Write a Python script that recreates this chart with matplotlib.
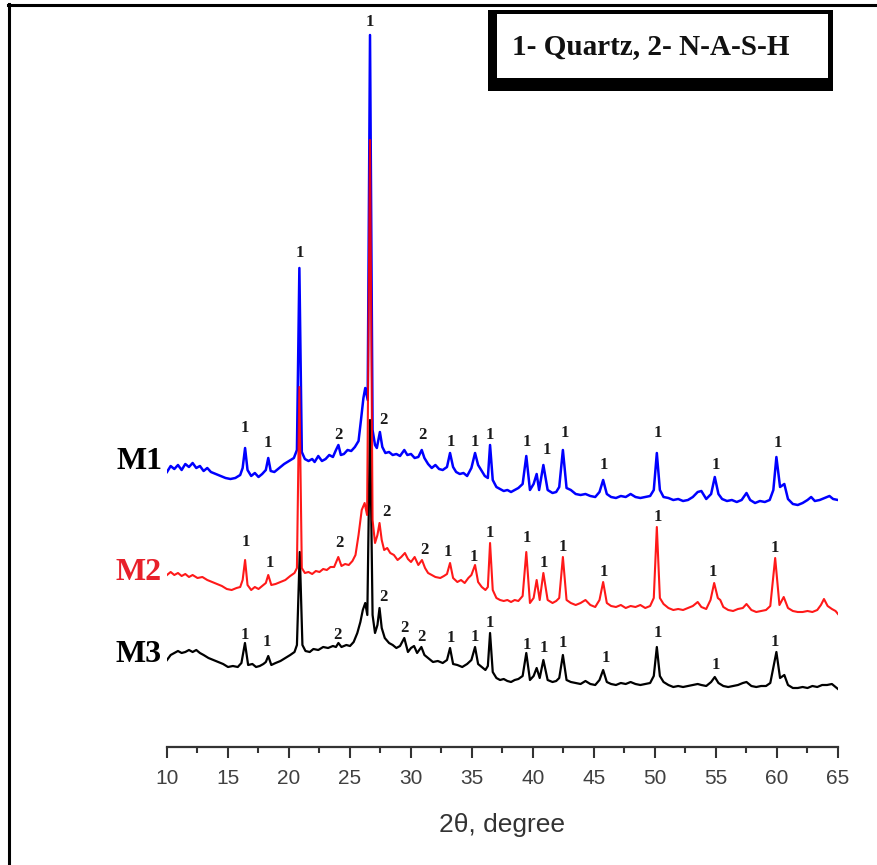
import matplotlib
matplotlib.use("Agg")
import matplotlib.pyplot as plt
from matplotlib.patches import Rectangle
from matplotlib.lines import Line2D
from matplotlib.ticker import MultipleLocator

# ---------------- data (2theta, intensity in a.u., offset stacked) ----------------
m1_2theta = [10.0, 10.3, 10.6, 10.9, 11.2, 11.5, 11.8, 12.1, 12.4, 12.7, 13.0, 13.3, 13.6, 14.0, 14.4,
             14.8, 15.2, 15.6, 16.0, 16.2, 16.4, 16.6, 16.9, 17.2, 17.5, 17.8, 18.1, 18.3, 18.5, 18.8,
             19.2, 19.6, 20.0, 20.4, 20.65, 20.85, 21.05, 21.3, 21.6, 21.9, 22.1, 22.4, 22.7, 23.0, 23.3,
             23.6, 23.85, 24.05, 24.25, 24.5, 24.8, 25.1, 25.4, 25.7, 25.9, 26.1, 26.25, 26.45, 26.64, 26.85,
             27.05, 27.2, 27.45, 27.65, 27.9, 28.2, 28.5, 28.8, 29.1, 29.45, 29.7, 30.0, 30.3, 30.6, 30.88,
             31.1, 31.4, 31.7, 32.0, 32.3, 32.6, 32.95, 33.2, 33.45, 33.7, 34.0, 34.3, 34.6, 34.95, 35.25,
             35.5, 35.75, 36.05, 36.3, 36.48, 36.7, 37.0, 37.3, 37.6, 37.9, 38.2, 38.5, 38.8, 39.15, 39.45,
             39.75, 40.05, 40.3, 40.5, 40.85, 41.2, 41.6, 41.9, 42.15, 42.45, 42.75, 43.1, 43.5, 43.9, 44.3,
             44.7, 45.1, 45.45, 45.75, 46.05, 46.4, 46.8, 47.2, 47.6, 48.0, 48.4, 48.8, 49.2, 49.6, 49.9,
             50.15, 50.4, 50.7, 51.1, 51.5, 51.9, 52.3, 52.7, 53.1, 53.5, 53.8, 54.2, 54.6, 54.9, 55.2,
             55.5, 55.9, 56.3, 56.7, 57.1, 57.5, 57.8, 58.2, 58.6, 59.0, 59.4, 59.7, 59.95, 60.25, 60.6,
             60.9, 61.3, 61.7, 62.1, 62.5, 62.8, 63.1, 63.5, 63.9, 64.3, 64.6, 65.0]
m1_int = [276, 282, 279, 283, 278, 284, 281, 285, 280, 282, 277, 280, 276, 274, 272,
          270, 269, 270, 273, 280, 300, 278, 272, 275, 271, 274, 278, 290, 277, 276,
          280, 284, 287, 290, 298, 480, 296, 289, 287, 289, 286, 292, 287, 289, 293,
          291, 298, 303, 293, 294, 298, 297, 301, 307, 328, 350, 360, 348, 713, 318,
          303, 300, 316, 301, 295, 296, 293, 294, 292, 298, 293, 294, 290, 291, 298,
          290, 284, 280, 283, 279, 278, 281, 295, 281, 276, 274, 275, 272, 280, 295,
          283, 278, 272, 270, 303, 268, 261, 259, 257, 258, 256, 258, 260, 264, 292,
          258, 264, 274, 258, 283, 258, 255, 256, 261, 298, 260, 258, 254, 253, 254,
          252, 251, 256, 268, 254, 251, 250, 252, 251, 254, 251, 250, 251, 252, 258,
          295, 258, 251, 250, 248, 249, 247, 248, 251, 256, 257, 249, 254, 271, 254,
          249, 247, 248, 246, 248, 255, 248, 245, 247, 246, 248, 258, 291, 261, 264,
          249, 244, 243, 245, 248, 251, 247, 248, 250, 252, 249, 248]

m2_2theta = [10.0, 10.3, 10.6, 10.9, 11.2, 11.5, 11.8, 12.1, 12.5, 12.9, 13.3, 13.7, 14.1, 14.5, 14.9,
             15.3, 15.7, 16.0, 16.2, 16.4, 16.6, 16.9, 17.2, 17.5, 17.8, 18.1, 18.3, 18.55, 18.9, 19.3,
             19.7, 20.1, 20.45, 20.65, 20.85, 21.05, 21.3, 21.6, 21.9, 22.2, 22.5, 22.8, 23.1, 23.4, 23.7,
             24.04, 24.3, 24.6, 24.9, 25.2, 25.45, 25.7, 25.96, 26.2, 26.4, 26.64, 26.85, 27.05, 27.25, 27.42,
             27.6, 27.8, 28.05, 28.3, 28.6, 28.9, 29.2, 29.5, 29.75, 30.0, 30.3, 30.6, 30.9, 31.15, 31.4,
             31.7, 32.0, 32.4, 32.7, 32.95, 33.2, 33.45, 33.8, 34.1, 34.4, 34.7, 34.95, 35.25, 35.5, 35.8,
             36.1, 36.3, 36.48, 36.7, 37.0, 37.3, 37.6, 37.9, 38.2, 38.5, 38.8, 39.15, 39.45, 39.75, 40.05,
             40.3, 40.55, 40.85, 41.2, 41.6, 41.9, 42.15, 42.45, 42.75, 43.1, 43.5, 43.9, 44.3, 44.7, 45.1,
             45.45, 45.75, 46.05, 46.4, 46.8, 47.2, 47.6, 48.0, 48.4, 48.8, 49.2, 49.6, 49.9, 50.15, 50.4,
             50.7, 51.1, 51.5, 51.9, 52.3, 52.7, 53.1, 53.5, 53.8, 54.2, 54.55, 54.85, 55.15, 55.35, 55.6,
             56.0, 56.4, 56.8, 57.2, 57.5, 57.9, 58.3, 58.7, 59.1, 59.45, 59.85, 60.2, 60.55, 60.9, 61.3,
             61.7, 62.1, 62.5, 62.9, 63.3, 63.6, 63.85, 64.15, 64.5, 64.8, 65.0]
m2_int = [173, 176, 173, 175, 172, 174, 171, 173, 170, 171, 168, 166, 164, 162, 159,
          158, 160, 161, 168, 188, 163, 158, 161, 159, 162, 165, 173, 163, 164, 166,
          168, 172, 175, 180, 361, 180, 175, 176, 174, 177, 176, 179, 178, 181, 181,
          191, 182, 184, 183, 187, 193, 213, 238, 245, 233, 608, 228, 205, 213, 225,
          208, 198, 200, 195, 193, 188, 191, 195, 189, 186, 191, 183, 188, 180, 175,
          173, 171, 170, 172, 174, 185, 170, 166, 168, 165, 170, 173, 183, 166, 161,
          158, 161, 205, 158, 150, 148, 147, 148, 146, 148, 147, 152, 196, 145, 150,
          168, 148, 175, 148, 145, 147, 150, 191, 148, 145, 143, 145, 148, 143, 141,
          148, 166, 145, 142, 141, 143, 140, 142, 141, 143, 140, 142, 150, 221, 150,
          144, 140, 138, 139, 138, 140, 142, 146, 141, 139, 148, 165, 150, 148, 141,
          138, 137, 139, 140, 144, 138, 136, 137, 138, 142, 190, 143, 151, 140, 137,
          136, 136, 137, 136, 138, 143, 149, 142, 139, 137, 134]

m3_2theta = [10.0, 10.3, 10.6, 10.9, 11.2, 11.5, 11.8, 12.1, 12.4, 12.7, 13.0, 13.4, 13.8, 14.2, 14.6,
             15.0, 15.4, 15.8, 16.1, 16.39, 16.65, 17.0, 17.3, 17.6, 17.9, 18.1, 18.3, 18.55, 18.9, 19.3,
             19.7, 20.1, 20.45, 20.65, 20.88, 21.1, 21.35, 21.7, 22.0, 22.4, 22.8, 23.2, 23.6, 23.85, 24.05,
             24.3, 24.7, 25.0, 25.3, 25.6, 25.85, 26.05, 26.25, 26.42, 26.64, 26.85, 27.05, 27.25, 27.42, 27.6,
             27.85, 28.2, 28.5, 28.8, 29.1, 29.45, 29.75, 30.0, 30.25, 30.5, 30.85, 31.1, 31.4, 31.8, 32.2,
             32.6, 32.95, 33.2, 33.45, 33.8, 34.2, 34.6, 34.95, 35.25, 35.5, 35.8, 36.1, 36.3, 36.48, 36.7,
             37.0, 37.3, 37.6, 37.9, 38.2, 38.5, 38.8, 39.15, 39.45, 39.75, 40.05, 40.3, 40.55, 40.85, 41.2,
             41.6, 41.9, 42.15, 42.45, 42.75, 43.1, 43.5, 43.9, 44.3, 44.7, 45.1, 45.45, 45.75, 46.05, 46.4,
             46.8, 47.2, 47.6, 48.0, 48.4, 48.8, 49.2, 49.6, 49.9, 50.15, 50.4, 50.7, 51.1, 51.5, 51.9,
             52.3, 52.7, 53.1, 53.5, 53.8, 54.2, 54.6, 54.9, 55.2, 55.6, 56.0, 56.4, 56.8, 57.2, 57.5,
             57.9, 58.3, 58.7, 59.1, 59.45, 59.95, 60.25, 60.6, 60.9, 61.3, 61.7, 62.1, 62.5, 62.9, 63.3,
             63.7, 64.1, 64.5, 64.8, 65.0]
m3_int = [88, 93, 95, 97, 95, 96, 98, 96, 98, 95, 93, 90, 88, 86, 84,
          81, 82, 81, 85, 105, 83, 84, 81, 82, 84, 86, 92, 83, 85, 87,
          90, 93, 96, 103, 196, 103, 97, 96, 99, 98, 101, 100, 102, 101, 105,
          101, 103, 102, 106, 115, 126, 138, 145, 133, 328, 133, 115, 123, 140, 120,
          110, 105, 103, 100, 102, 110, 96, 100, 102, 95, 101, 93, 90, 86, 87,
          85, 88, 100, 84, 83, 81, 84, 88, 101, 84, 81, 78, 82, 115, 76,
          70, 68, 69, 67, 66, 68, 69, 72, 95, 68, 72, 80, 70, 88, 68,
          66, 67, 70, 93, 68, 66, 65, 64, 67, 64, 63, 68, 78, 66, 64,
          63, 65, 64, 66, 64, 63, 64, 65, 72, 101, 72, 66, 63, 61, 62,
          61, 62, 63, 64, 63, 62, 66, 71, 65, 62, 61, 62, 63, 65, 66,
          62, 61, 62, 62, 65, 96, 70, 73, 63, 60, 60, 61, 60, 62, 61,
          63, 63, 64, 61, 59]

# phase labels: (2theta, intensity, text)
m1_labels_x = [16.4, 18.3, 20.85, 24.05, 26.64, 27.7, 30.9, 33.25, 35.2, 36.5, 39.5, 41.1, 42.6, 45.8, 50.25, 55.0, 60.1]
m1_labels_y = [320, 305, 495, 313, 726, 328, 313, 306, 306, 313, 306, 298, 315, 283, 315, 283, 305]
m1_labels_t = ["1", "1", "1", "2", "1", "2", "2", "1", "1", "1", "1", "1", "1", "1", "1", "1", "1"]

m2_labels_x = [16.5, 18.4, 24.1, 28.0, 31.1, 33.0, 35.15, 36.5, 39.5, 40.9, 42.46, 45.82, 50.25, 54.76, 59.84]
m2_labels_y = [206, 185, 205, 236, 198, 196, 191, 215, 210, 185, 201, 176, 231, 176, 200]
m2_labels_t = ["1", "1", "2", "2", "2", "1", "1", "1", "1", "1", "1", "1", "1", "1", "1"]

m3_labels_x = [16.39, 18.2, 24.0, 27.7, 29.5, 30.88, 33.3, 35.25, 36.5, 39.5, 40.9, 42.46, 45.95, 50.25, 55.0, 59.84]
m3_labels_y = [113, 106, 113, 151, 120, 111, 110, 111, 125, 103, 100, 105, 90, 115, 83, 106]
m3_labels_t = ["1", "1", "2", "2", "2", "2", "1", "1", "1", "1", "1", "1", "1", "1", "1", "1"]

sample_names = ["M1", "M2", "M3"]
sample_label_y = [286, 175, 93]
sample_colors = ["#000000", "#e8202a", "#000000"]
line_colors = ["#0000ff", "#ff0000", "#000000"]

legend_text = "1- Quartz, 2- N-A-S-H"
xlabel_text = "2\u03b8, degree"
x_ticks = [10, 15, 20, 25, 30, 35, 40, 45, 50, 55, 60, 65]

# ---------------- figure ----------------
W, H = 878, 865
fig = plt.figure(figsize=(W / 100, H / 100), dpi=100)
fig.patch.set_facecolor("white")

def fx(px):
    return px / W

def fy(py):
    return 1 - py / H

ax = fig.add_axes([fx(167), fy(747), fx(838) - fx(167), fy(5) - fy(747)])
ax.set_xlim(10, 65)
ax.set_ylim(1, 743)
ax.patch.set_alpha(0)

ax.plot(m3_2theta, m3_int, color=line_colors[2], lw=1.6, zorder=2)
ax.plot(m1_2theta, m1_int, color=line_colors[0], lw=1.8, zorder=3)
ax.plot(m2_2theta, m2_int, color=line_colors[1], lw=1.5, alpha=0.9, zorder=4)

serif = ["Liberation Serif", "DejaVu Serif"]
for xs, ys, ts in [(m1_labels_x, m1_labels_y, m1_labels_t),
                   (m2_labels_x, m2_labels_y, m2_labels_t),
                   (m3_labels_x, m3_labels_y, m3_labels_t)]:
    for x, y, t in zip(xs, ys, ts):
        ax.text(x, y, t, ha="center", va="center", fontsize=12, fontweight="bold",
                family=serif, color="#1a1a1a", zorder=6, clip_on=False)

for name, y, c in zip(sample_names, sample_label_y, sample_colors):
    ax.text(9.6, y, name, ha="right", va="center", fontsize=23, fontweight="bold",
            family=serif, color=c, clip_on=False)

for s in ["left", "right", "top"]:
    ax.spines[s].set_visible(False)
ax.spines["bottom"].set_color("#333333")
ax.spines["bottom"].set_linewidth(1.6)
ax.set_yticks([])
ax.set_xticks(x_ticks)
ax.xaxis.set_minor_locator(MultipleLocator(2.5))
ax.tick_params(axis="x", which="major", direction="out", length=8, width=1.5,
               color="#333333", labelsize=15, labelcolor="#404040", pad=7.5)
ax.tick_params(axis="x", which="minor", direction="out", length=4.5, width=1.5, color="#333333")
for lab in ax.get_xticklabels():
    lab.set_family(["Liberation Sans", "DejaVu Sans"])
ax.set_xlabel(xlabel_text, fontsize=19, color="#333333",
              family=["Liberation Sans", "DejaVu Sans"], labelpad=18)

# outer frame lines (left and top)
fig.add_artist(Line2D([fx(9), fx(9)], [fy(4), fy(865)], color="black", lw=2.2))
fig.add_artist(Line2D([fx(8), fx(878)], [fy(5), fy(5)], color="black", lw=2.2))

# legend box with shadow
fig.add_artist(Rectangle((fx(488), fy(91)), fx(833) - fx(488), fy(10) - fy(91),
                         facecolor="black", edgecolor="none"))
fig.add_artist(Rectangle((fx(497), fy(78)), fx(828) - fx(497), fy(14) - fy(78),
                         facecolor="white", edgecolor="none"))
fig.text(fx(651), fy(47), legend_text, ha="center", va="center", fontsize=21,
         fontweight="bold", family=serif, color="#111111")

fig.savefig("out.png", dpi=100, facecolor="white")
